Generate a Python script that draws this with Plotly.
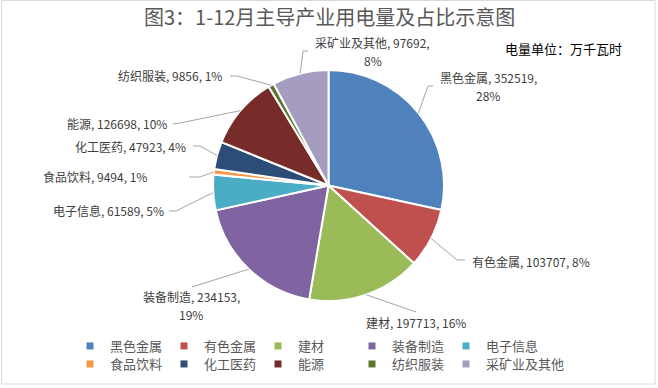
import math
import plotly.graph_objects as go

W, H = 658, 388

categories = ["黑色金属", "有色金属", "建材", "装备制造", "电子信息",
              "食品饮料", "化工医药", "能源", "纺织服装", "采矿业及其他"]
values = [352519, 103707, 197713, 234153, 61589, 9494, 47923, 126698, 9856, 97692]
colors = ["#4F81BD", "#C0504D", "#9BBB59", "#8064A2", "#4BACC6",
          "#F79646", "#2C4D75", "#772C2A", "#5F7530", "#A69CBF"]

title_text = "图3：1-12月主导产业用电量及占比示意图"
unit_text = "电量单位：万千瓦时"

FONT = "Noto Sans CJK SC"

# pie geometry (pixels)
CX, CY, R = 328.5, 185.5, 115.5


def px(x):
    return x / W


def py(y):
    return 1 - y / H


# label layout: text anchor point (px), xanchor, two-line flag, leader bend points (px)
label_layout = {
    "黑色金属": dict(pos=(488, 86.5), xa="center", br=True, bend=[(428, 86), (433, 86)]),
    "有色金属": dict(pos=(470, 261), xa="left", br=False, bend=[(457, 260), (465, 260)]),
    "建材": dict(pos=(416, 322), xa="center", br=False, bend=[(416, 312)]),
    "装备制造": dict(pos=(191, 305), xa="center", br=True, bend=[(192, 287)]),
    "电子信息": dict(pos=(166, 211), xa="right", br=False, bend=[(176, 211), (169, 211)]),
    "食品饮料": dict(pos=(149, 177), xa="right", br=False, bend=[(200, 177), (189, 177)]),
    "化工医药": dict(pos=(188, 146), xa="right", br=False, bend=[(200, 146), (193, 146)]),
    "能源": dict(pos=(169, 124), xa="right", br=False, bend=[(180, 123), (173, 124)]),
    "纺织服装": dict(pos=(224, 76), xa="right", br=False, bend=[(237, 76), (230, 76)]),
    "采矿业及其他": dict(pos=(373, 51), xa="center", br=True, bend=[(303, 51), (308, 51)]),
}

LABEL_FONT = dict(family=FONT, size=12, color="#404040")

fig = go.Figure()

fig.add_trace(go.Pie(
    labels=categories, values=values, sort=False, direction="clockwise", rotation=0,
    marker=dict(colors=colors, line=dict(color="white", width=2)),
    textinfo="none", showlegend=False,
    domain=dict(x=[px(CX - R), px(CX + R)], y=[py(CY + R), py(CY - R)]),
))

# legend entries (two rows of five)
for i, (c, col) in enumerate(zip(categories, colors)):
    fig.add_trace(go.Scatter(
        x=[None], y=[None], mode="markers", name=c,
        marker=dict(symbol="square", size=7, color=col),
        legend="legend" if i < 5 else "legend2",
    ))
# invisible spacer so the last entry of row 2 is not clipped
fig.add_trace(go.Scatter(
    x=[None], y=[None], mode="markers", name=" ",
    marker=dict(symbol="square", size=7, color="rgba(0,0,0,0)"),
    legend="legend2", hoverinfo="skip",
))

total = sum(values)
annotations = []
shapes = []
cum = 0
for c, v in zip(categories, values):
    mid = (cum + v / 2) / total
    cum += v
    th = 2 * math.pi * mid
    ex, ey = CX + R * math.sin(th), CY - R * math.cos(th)
    lay = label_layout[c]
    pct = round(100 * v / total)
    lx, ly = lay["pos"]
    if lay["br"]:
        lines = [(f"{c}, {v},", ly - 9), (f"{pct}%", ly + 9)]
    else:
        lines = [(f"{c}, {v}, {pct}%", ly)]
    for txt, yy in lines:
        annotations.append(dict(
            x=px(lx), y=py(yy), xref="paper", yref="paper",
            text=txt, showarrow=False, xanchor=lay["xa"], yanchor="middle",
            font=LABEL_FONT,
        ))
    pts = [(ex, ey)] + lay["bend"]
    path = "M " + " L ".join(f"{px(a):.5f},{py(b):.5f}" for a, b in pts)
    shapes.append(dict(type="path", path=path, xref="paper", yref="paper",
                       line=dict(color="#A6A6A6", width=1)))

annotations.append(dict(
    x=px(329), y=py(17), xref="paper", yref="paper", text=title_text, showarrow=False,
    xanchor="center", yanchor="middle", font=dict(family=FONT, size=20, color="#595959"),
))
annotations.append(dict(
    x=px(503), y=py(48), xref="paper", yref="paper", text=unit_text, showarrow=False,
    xanchor="left", yanchor="middle", font=dict(family=FONT, size=13, color="#000000"),
))

shapes.append(dict(type="rect", xref="paper", yref="paper",
                   x0=px(1.5), x1=px(655), y0=py(384), y1=py(0.5),
                   line=dict(color="#D9D9D9", width=1)))

legend_common = dict(orientation="h", xanchor="left", yanchor="middle",
                     entrywidth=49, entrywidthmode="pixels",
                     font=dict(family=FONT, size=13, color="#595959"),
                     bgcolor="rgba(0,0,0,0)", itemclick=False, itemdoubleclick=False)

fig.update_layout(
    width=W, height=H, margin=dict(l=0, r=0, t=0, b=0),
    paper_bgcolor="white", plot_bgcolor="white",
    xaxis=dict(visible=False), yaxis=dict(visible=False),
    legend=dict(x=px(70), y=py(346), **legend_common),
    legend2=dict(x=px(70), y=py(364), **legend_common),
    annotations=annotations, shapes=shapes,
    font=dict(family=FONT),
)

fig.write_html("out.html", config={"displayModeBar": False},
               post_script="document.body.style.margin='0';")
